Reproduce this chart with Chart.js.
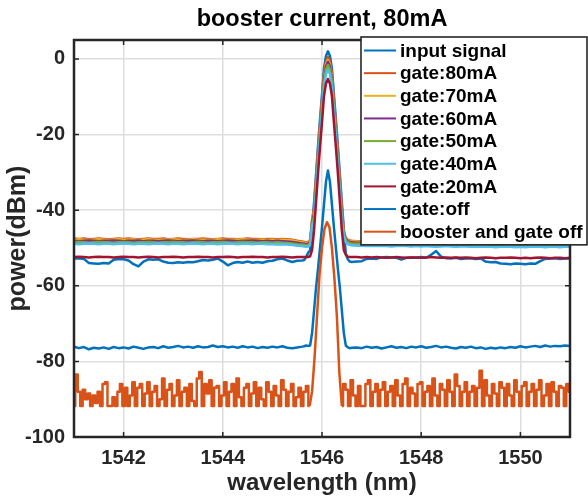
<!DOCTYPE html>
<html lang="en">
<head>
    <meta charset="UTF-8">
    <title>booster current, 80mA</title>
    <style>
        body {
            margin: 0;
            background: #fff;
        }
        #spectrum {
            display: block;
        }
    </style>
    <script src="https://cdn.jsdelivr.net/npm/chart.js"></script>
</head>
<body>
    <canvas id="spectrum" width="588" height="498"></canvas>

    <script>
        // ---- data ----
        const chartTitle = 'booster current, 80mA';
        const xTitle = 'wavelength (nm)';
        const yTitle = 'power(dBm)';

        const xTicks = [1542, 1544, 1546, 1548, 1550];
        const yTicks = [-100, -80, -60, -40, -20, 0];

        const seriesLabels = ['input signal', 'gate:80mA', 'gate:70mA', 'gate:60mA', 'gate:50mA',
                              'gate:40mA', 'gate:20mA', 'gate:off', 'booster and gate off'];

        // sample wavelengths (nm), finer around the signal peak
        const wavelength = [
            1541.0, 1541.1, 1541.2, 1541.3, 1541.4, 1541.5, 1541.6, 1541.7, 1541.8, 1541.9,
            1542.0, 1542.1, 1542.2, 1542.3, 1542.4, 1542.5, 1542.6, 1542.7, 1542.8, 1542.9,
            1543.0, 1543.1, 1543.2, 1543.3, 1543.4, 1543.5, 1543.6, 1543.7, 1543.8, 1543.9,
            1544.0, 1544.1, 1544.2, 1544.3, 1544.4, 1544.5, 1544.6, 1544.7, 1544.8, 1544.9,
            1545.0, 1545.1, 1545.2, 1545.3, 1545.4, 1545.5, 1545.6,
            1545.64, 1545.68, 1545.72, 1545.76, 1545.80, 1545.84, 1545.88, 1545.92, 1545.96, 1546.00,
            1546.04, 1546.08, 1546.12, 1546.16, 1546.20, 1546.24, 1546.28, 1546.32, 1546.36, 1546.40,
            1546.44, 1546.48, 1546.52, 1546.56, 1546.60,
            1546.7, 1546.8, 1546.9,
            1547.0, 1547.1, 1547.2, 1547.3, 1547.4, 1547.5, 1547.6, 1547.7, 1547.8, 1547.9,
            1548.0, 1548.1, 1548.2, 1548.3, 1548.4, 1548.5, 1548.6, 1548.7, 1548.8, 1548.9,
            1549.0, 1549.1, 1549.2, 1549.3, 1549.4, 1549.5, 1549.6, 1549.7, 1549.8, 1549.9,
            1550.0, 1550.1, 1550.2, 1550.3, 1550.4, 1550.5, 1550.6, 1550.7, 1550.8, 1550.9,
            1551.0
        ];

        const inputSignal = [
            -52.8, -52.7, -52.9, -54.0, -54.1, -54.2, -54.0, -54.1, -53.1, -52.9,
            -53.0, -53.3, -54.3, -54.9, -53.6, -53.0, -53.1, -53.0, -53.6, -53.9,
            -54.0, -53.8, -53.9, -53.7, -53.8, -53.5, -53.2, -53.3, -53.1, -52.8,
            -53.6, -54.6, -54.0, -53.7, -53.9, -53.6, -53.9, -53.7, -53.9, -53.5,
            -53.4, -53.0, -52.8, -53.3, -53.7, -53.4, -53.3,
            -53.2, -52.4, -51.3, -50.6, -44.5, -38.0, -30.5, -23.0, -16.0, -9.5,
            -2.5, 0.8, 2.0, 0.8, -2.5, -9.5, -16.0, -23.0, -30.5, -38.0,
            -45.0, -51.5, -53.0, -53.6, -53.7,
            -53.6, -53.5, -52.9,
            -52.8, -52.9, -52.5, -52.4, -52.5, -52.6, -53.1, -52.6, -52.5, -52.6,
            -52.4, -52.6, -51.8, -50.8, -52.3, -52.7, -52.8, -52.6, -52.9, -52.8,
            -52.7, -52.9, -52.8, -53.6, -53.8, -53.7, -54.1, -54.2, -54.3, -54.1,
            -54.2, -54.3, -54.1, -54.2, -53.5, -52.9, -52.8, -52.7, -52.9, -52.8,
            -52.8
        ];

        const gate80 = [
            -47.5, -47.6, -47.5, -47.7, -47.6, -47.5, -47.6, -47.7, -47.6, -47.5,
            -47.6, -47.5, -47.6, -47.7, -47.6, -47.5, -47.6, -47.6, -47.5, -47.7,
            -47.6, -47.5, -47.6, -47.7, -47.6, -47.6, -47.5, -47.6, -47.7, -47.6,
            -47.5, -47.6, -47.6, -47.7, -47.6, -47.5, -47.6, -47.6, -47.7, -47.6,
            -47.6, -47.7, -47.6, -47.7, -47.8, -48.1, -48.3,
            -48.4, -48.5, -48.4, -47.9, -42.5, -39.5, -32.0, -24.5, -17.5, -11.0,
            -4.0, -0.7, 0.5, -0.7, -4.0, -11.0, -17.5, -24.5, -32.0, -39.5,
            -45.5, -47.3, -47.8, -48.0, -48.1,
            -48.2, -48.2, -48.3,
            -48.2, -48.3, -48.2, -48.3, -48.4, -48.3, -48.2, -48.3, -48.4, -48.3,
            -48.4, -48.3, -48.4, -48.5, -48.4, -48.3, -48.4, -48.5, -48.4, -48.4,
            -48.5, -48.4, -48.5, -48.4, -48.5, -48.6, -48.5, -48.4, -48.5, -48.6,
            -48.5, -48.6, -48.5, -48.4, -48.5, -48.6, -48.5, -48.5, -48.6, -48.5,
            -48.5
        ];

        const gate70 = [
            -47.8, -47.7, -47.8, -47.9, -47.8, -47.7, -47.8, -47.9, -47.8, -47.7,
            -47.8, -47.8, -47.7, -47.9, -47.8, -47.7, -47.8, -47.9, -47.8, -47.8,
            -47.7, -47.8, -47.9, -47.8, -47.7, -47.8, -47.8, -47.9, -47.8, -47.7,
            -47.8, -47.9, -47.8, -47.8, -47.7, -47.8, -47.9, -47.8, -47.8, -47.9,
            -47.8, -47.9, -47.8, -47.9, -48.0, -48.3, -48.5,
            -48.6, -48.7, -48.6, -48.1, -43.0, -40.3, -32.8, -25.3, -18.3, -11.8,
            -4.8, -1.5, -0.3, -1.5, -4.8, -11.8, -18.3, -25.3, -32.8, -40.3,
            -45.8, -47.5, -48.0, -48.2, -48.3,
            -48.3, -48.4, -48.4,
            -48.4, -48.3, -48.4, -48.5, -48.4, -48.4, -48.5, -48.4, -48.5, -48.4,
            -48.5, -48.4, -48.5, -48.6, -48.5, -48.4, -48.5, -48.6, -48.5, -48.5,
            -48.6, -48.5, -48.6, -48.5, -48.6, -48.7, -48.6, -48.5, -48.6, -48.7,
            -48.6, -48.7, -48.6, -48.5, -48.6, -48.7, -48.6, -48.6, -48.7, -48.6,
            -48.6
        ];

        const gate60 = [
            -48.1, -48.2, -48.1, -48.0, -48.1, -48.2, -48.1, -48.1, -48.0, -48.1,
            -48.2, -48.1, -48.1, -48.0, -48.2, -48.1, -48.1, -48.2, -48.1, -48.0,
            -48.1, -48.2, -48.1, -48.1, -48.0, -48.1, -48.2, -48.1, -48.1, -48.2,
            -48.1, -48.0, -48.1, -48.2, -48.1, -48.1, -48.0, -48.1, -48.2, -48.1,
            -48.2, -48.1, -48.2, -48.3, -48.4, -48.6, -48.8,
            -48.9, -49.0, -48.9, -48.4, -43.3, -40.8, -33.3, -25.8, -18.8, -12.3,
            -5.3, -2.0, -0.8, -2.0, -5.3, -12.3, -18.8, -25.8, -33.3, -40.8,
            -46.0, -47.7, -48.2, -48.4, -48.5,
            -48.6, -48.6, -48.7,
            -48.6, -48.7, -48.6, -48.7, -48.8, -48.7, -48.6, -48.7, -48.8, -48.7,
            -48.8, -48.7, -48.8, -48.9, -48.8, -48.7, -48.8, -48.9, -48.8, -48.8,
            -48.9, -48.8, -48.9, -48.8, -48.9, -49.0, -48.9, -48.8, -48.9, -49.0,
            -48.9, -49.0, -48.9, -48.8, -48.9, -49.0, -48.9, -48.9, -49.0, -48.9,
            -48.9
        ];

        const gate50 = [
            -48.5, -48.4, -48.5, -48.6, -48.5, -48.4, -48.5, -48.5, -48.6, -48.5,
            -48.4, -48.5, -48.6, -48.5, -48.5, -48.4, -48.5, -48.6, -48.5, -48.5,
            -48.4, -48.5, -48.5, -48.6, -48.5, -48.4, -48.5, -48.6, -48.5, -48.5,
            -48.4, -48.5, -48.6, -48.5, -48.4, -48.5, -48.5, -48.6, -48.5, -48.5,
            -48.6, -48.5, -48.6, -48.7, -48.8, -49.0, -49.1,
            -49.2, -49.3, -49.2, -48.8, -43.6, -41.6, -34.1, -26.6, -19.6, -13.1,
            -6.1, -2.8, -1.6, -2.8, -6.1, -13.1, -19.6, -26.6, -34.1, -41.6,
            -46.3, -48.0, -48.5, -48.7, -48.8,
            -48.9, -48.9, -49.0,
            -48.9, -49.0, -48.9, -49.0, -49.1, -49.0, -48.9, -49.0, -49.1, -49.0,
            -49.1, -49.0, -49.1, -49.2, -49.1, -49.0, -49.1, -49.2, -49.1, -49.1,
            -49.2, -49.1, -49.2, -49.1, -49.2, -49.3, -49.2, -49.1, -49.2, -49.3,
            -49.2, -49.3, -49.2, -49.1, -49.2, -49.3, -49.2, -49.2, -49.3, -49.2,
            -49.2
        ];

        const gate40 = [
            -48.9, -49.0, -48.9, -48.8, -48.9, -49.0, -48.9, -48.9, -49.0, -48.9,
            -48.8, -48.9, -49.0, -48.9, -48.9, -49.0, -48.9, -48.8, -48.9, -49.0,
            -48.9, -48.9, -49.0, -48.9, -48.8, -48.9, -49.0, -48.9, -48.9, -49.0,
            -48.9, -48.8, -48.9, -49.0, -48.9, -48.9, -49.0, -48.9, -48.9, -49.0,
            -49.0, -49.1, -49.0, -49.1, -49.2, -49.4, -49.5,
            -49.6, -49.7, -49.6, -49.2, -44.0, -42.8, -35.3, -27.8, -20.8, -14.3,
            -7.3, -4.0, -2.8, -4.0, -7.3, -14.3, -20.8, -27.8, -35.3, -42.8,
            -46.8, -48.5, -49.0, -49.2, -49.3,
            -49.4, -49.4, -49.5,
            -49.4, -49.5, -49.4, -49.5, -49.6, -49.5, -49.4, -49.5, -49.6, -49.5,
            -49.6, -49.5, -49.6, -49.7, -49.6, -49.5, -49.6, -49.7, -49.6, -49.6,
            -49.7, -49.6, -49.7, -49.6, -49.7, -49.8, -49.7, -49.6, -49.7, -49.8,
            -49.7, -49.8, -49.7, -49.6, -49.7, -49.8, -49.7, -49.7, -49.8, -49.7,
            -49.7
        ];

        const gate20 = [
            -52.4, -52.3, -52.4, -52.5, -52.4, -52.3, -52.4, -52.4, -52.5, -52.4,
            -52.3, -52.4, -52.4, -52.5, -52.4, -52.3, -52.4, -52.5, -52.4, -52.4,
            -52.3, -52.4, -52.5, -52.4, -52.4, -52.3, -52.4, -52.4, -52.5, -52.4,
            -52.4, -52.3, -52.4, -52.5, -52.4, -52.4, -52.3, -52.4, -52.4, -52.5,
            -52.4, -52.4, -52.3, -52.4, -52.5, -52.4, -52.4,
            -52.4, -52.4, -52.4, -52.2, -50.5, -45.3, -37.8, -30.3, -23.3, -16.8,
            -9.8, -6.5, -5.3, -6.5, -9.8, -16.8, -23.3, -30.3, -37.8, -45.3,
            -50.6, -51.8, -52.3, -52.4, -52.4,
            -52.4, -52.5, -52.4,
            -52.5, -52.4, -52.5, -52.6, -52.5, -52.4, -52.5, -52.6, -52.5, -52.5,
            -52.6, -52.5, -52.4, -52.5, -52.6, -52.5, -52.6, -52.5, -52.6, -52.5,
            -52.6, -52.7, -52.6, -52.5, -52.6, -52.7, -52.6, -52.6, -52.5, -52.6,
            -52.7, -52.6, -52.7, -52.6, -52.5, -52.6, -52.7, -52.6, -52.6, -52.7,
            -52.6
        ];

        const gateOff = [
            -76.1, -76.5, -76.2, -76.8, -76.4, -76.6, -76.3, -76.7, -76.2, -76.5,
            -76.3, -76.6, -76.1, -76.4, -76.7, -76.3, -76.2, -76.5, -76.0, -76.4,
            -76.2, -75.9, -76.3, -76.1, -76.4, -76.0, -76.3, -76.2, -75.8, -76.2,
            -76.0, -76.3, -76.1, -76.4, -76.0, -76.3, -76.1, -76.5, -76.2, -76.4,
            -76.1, -76.3, -76.0, -76.4, -76.5, -76.3, -76.1,
            -76.0, -75.8, -75.9, -75.8, -72.5, -66.5, -60.5, -55.5, -50.0, -44.5,
            -38.5, -32.5, -29.5, -32.5, -38.5, -44.5, -50.0, -55.5, -60.5, -66.5,
            -72.5, -75.8, -76.3, -76.5, -76.4,
            -76.3, -76.5, -76.1,
            -76.4, -76.2, -76.6, -76.3, -76.0, -76.4, -76.2, -76.5, -76.1, -76.3,
            -76.0, -76.4, -76.2, -75.9, -76.3, -76.1, -76.4, -76.6, -76.2, -76.4,
            -76.1, -76.5, -76.3, -76.7, -76.4, -76.6, -76.3, -76.5, -76.2, -76.4,
            -76.0, -76.3, -76.1, -75.9, -76.2, -75.8, -76.1, -75.9, -76.0, -75.8,
            -75.9
        ];

        // the noise-floor trace is sampled on its own, denser grid
        const noiseWavelength = [
            1541.00, 1541.05, 1541.10, 1541.15, 1541.20, 1541.25, 1541.30, 1541.35, 1541.40, 1541.45,
            1541.50, 1541.55, 1541.60, 1541.65, 1541.70, 1541.75, 1541.80, 1541.85, 1541.90, 1541.95,
            1542.00, 1542.05, 1542.10, 1542.15, 1542.20, 1542.25, 1542.30, 1542.35, 1542.40, 1542.45,
            1542.50, 1542.55, 1542.60, 1542.65, 1542.70, 1542.75, 1542.80, 1542.85, 1542.90, 1542.95,
            1543.00, 1543.05, 1543.10, 1543.15, 1543.20, 1543.25, 1543.30, 1543.35, 1543.40, 1543.45,
            1543.50, 1543.55, 1543.60, 1543.65, 1543.70, 1543.75, 1543.80, 1543.85, 1543.90, 1543.95,
            1544.00, 1544.05, 1544.10, 1544.15, 1544.20, 1544.25, 1544.30, 1544.35, 1544.40, 1544.45,
            1544.50, 1544.55, 1544.60, 1544.65, 1544.70, 1544.75, 1544.80, 1544.85, 1544.90, 1544.95,
            1545.00, 1545.05, 1545.10, 1545.15, 1545.20, 1545.25, 1545.30, 1545.35, 1545.40, 1545.45,
            1545.50, 1545.55, 1545.60, 1545.65, 1545.70, 1545.75, 1545.80, 1545.85, 1545.90, 1545.95,
            1546.00, 1546.05, 1546.10, 1546.15, 1546.20, 1546.25, 1546.30, 1546.35, 1546.40, 1546.45,
            1546.50, 1546.55, 1546.60, 1546.65, 1546.70, 1546.75, 1546.80, 1546.85, 1546.90, 1546.95,
            1547.00, 1547.05, 1547.10, 1547.15, 1547.20, 1547.25, 1547.30, 1547.35, 1547.40, 1547.45,
            1547.50, 1547.55, 1547.60, 1547.65, 1547.70, 1547.75, 1547.80, 1547.85, 1547.90, 1547.95,
            1548.00, 1548.05, 1548.10, 1548.15, 1548.20, 1548.25, 1548.30, 1548.35, 1548.40, 1548.45,
            1548.50, 1548.55, 1548.60, 1548.65, 1548.70, 1548.75, 1548.80, 1548.85, 1548.90, 1548.95,
            1549.00, 1549.05, 1549.10, 1549.15, 1549.20, 1549.25, 1549.30, 1549.35, 1549.40, 1549.45,
            1549.50, 1549.55, 1549.60, 1549.65, 1549.70, 1549.75, 1549.80, 1549.85, 1549.90, 1549.95,
            1550.00, 1550.05, 1550.10, 1550.15, 1550.20, 1550.25, 1550.30, 1550.35, 1550.40, 1550.45,
            1550.50, 1550.55, 1550.60, 1550.65, 1550.70, 1550.75, 1550.80, 1550.85, 1550.90, 1550.95,
            1551.00
        ];

        const boosterOff = [
            -91.8, -83.5, -88, -91.8, -87.5, -90, -88.5, -91.8, -89, -91,
            -88, -91.8, -86, -85.5, -91.8, -91.8, -89.5, -91.8, -88, -86,
            -91.8, -87, -91.8, -89, -85.5, -91.8, -87, -86, -91.8, -88.5,
            -85.5, -91.8, -88, -86.5, -91.8, -90, -84.5, -91.8, -87.5, -86,
            -91.8, -89, -85, -91.8, -88, -87, -91.8, -86, -90.5, -91.8,
            -84.5, -82.8, -91.8, -86, -88.5, -85, -91.8, -87, -86.5, -91.8,
            -89, -85.5, -91.8, -88, -86, -91.8, -84.5, -89.5, -91.8, -87,
            -86, -91.8, -88.5, -85.5, -91.8, -87, -90, -91.8, -85.5, -88,
            -91.8, -86.5, -89, -91.8, -85, -87.5, -91.8, -88, -86, -91.8,
            -89.5, -87, -91.8, -88, -86.5, -91.8, -88, -79, -68, -57,
            -50, -45, -43.2, -44.5, -50, -58, -68, -83, -91.8, -86,
            -87.5, -91.8, -85, -89, -91.8, -86.5, -91.8, -91.8, -86, -85,
            -91.8, -88, -86, -91.8, -87.5, -85.5, -91.8, -88, -86.5, -91.8,
            -85, -89, -91.8, -86, -84.5, -91.8, -87, -88.5, -91.8, -86,
            -85.5, -91.8, -88, -86.5, -91.8, -84.5, -89, -91.8, -86, -87.5,
            -91.8, -85, -88, -91.8, -83.5, -86.5, -91.8, -88, -85.5, -91.8,
            -88, -86.5, -91.8, -87, -82.5, -91.8, -85, -89, -91.8, -86,
            -88.5, -91.8, -85.5, -87, -91.8, -86, -89, -91.8, -85, -88,
            -91.8, -86.5, -85.5, -91.8, -88, -86, -91.8, -87.5, -85, -91.8,
            -89, -86, -91.8, -85.5, -88, -91.8, -86.5, -87, -91.8, -86,
            -88
        ];

        // wavelength span of the booster-off trace that is the signal peak, not noise
        const boosterPeakSpan = [1545.75, 1546.40];

        // ---- styling (MATLAB default line colours) ----
        const seriesColors = ['#0072BD', '#D95319', '#EDB120', '#7E2F8E', '#77AC30',
                              '#4DBEEE', '#A2142F', '#0072BD', '#D95319'];
        const axisColor = '#262626';
        const fontFamily = "'Liberation Sans', Arial, sans-serif";

        const seriesY = [inputSignal, gate80, gate70, gate60, gate50, gate40, gate20, gateOff];

        const lineStyle = (i) => ({
            borderColor: seriesColors[i],
            backgroundColor: seriesColors[i],
            borderWidth: 2.5,
            pointRadius: 0,
            tension: 0,
            borderJoinStyle: 'round',
            // later traces sit on top, like MATLAB's plot order
            order: seriesLabels.length - i
        });

        const datasets = seriesY.map((ys, i) => Object.assign({
            label: seriesLabels[i],
            data: wavelength.map((x, k) => ({ x: x, y: ys[k] }))
        }, lineStyle(i)));

        // booster-off trace: the noise floor is drawn as a comb of steps,
        // the peak itself as a plain line
        const last = seriesLabels.length - 1;
        const boosterPoints = noiseWavelength.map((x, k) => ({ x: x, y: boosterOff[k] }));
        const inPeak = p => p.x > boosterPeakSpan[0] && p.x < boosterPeakSpan[1];
        datasets.push(Object.assign({
            label: seriesLabels[last],
            data: boosterPoints.map(p => inPeak(p) ? { x: p.x, y: null } : p),
            stepped: 'middle',
            spanGaps: false
        }, lineStyle(last)));
        datasets.push(Object.assign({
            label: seriesLabels[last],
            data: boosterPoints.filter(p => p.x >= boosterPeakSpan[0] && p.x <= boosterPeakSpan[1]),
            inLegend: false
        }, lineStyle(last)));

        // axes box with inward tick marks
        const axesBox = {
            id: 'axesBox',
            afterDatasetsDraw(chart) {
                const { ctx, chartArea: a, scales } = chart;
                ctx.save();
                ctx.strokeStyle = axisColor;
                ctx.lineWidth = 1.5;
                ctx.beginPath();
                xTicks.forEach(v => {
                    const px = scales.x.getPixelForValue(v);
                    ctx.moveTo(px, a.bottom); ctx.lineTo(px, a.bottom - 5);
                    ctx.moveTo(px, a.top); ctx.lineTo(px, a.top + 5);
                });
                yTicks.forEach(v => {
                    const py = scales.y.getPixelForValue(v);
                    ctx.moveTo(a.left, py); ctx.lineTo(a.left + 5, py);
                    ctx.moveTo(a.right, py); ctx.lineTo(a.right - 5, py);
                });
                ctx.stroke();
                ctx.lineWidth = 2.5;
                ctx.strokeRect(a.left, a.top, a.right - a.left, a.bottom - a.top);
                ctx.restore();
            }
        };

        // legend box in the upper right corner, overlapping the axes
        const legendBox = {
            id: 'legendBox',
            afterDraw(chart) {
                const { ctx, chartArea: a } = chart;
                const entries = chart.data.datasets.filter(ds => ds.inLegend !== false);
                const left = a.left + 287, top = a.top - 3;
                const width = 226, rowH = 22.65;
                const height = rowH * entries.length + 4;
                ctx.save();
                ctx.fillStyle = '#fff';
                ctx.fillRect(left, top, width, height);
                ctx.strokeStyle = axisColor;
                ctx.lineWidth = 1.6;
                ctx.strokeRect(left, top, width, height);
                ctx.font = 'bold 19px ' + fontFamily;
                ctx.textBaseline = 'middle';
                entries.forEach((ds, i) => {
                    const cy = top + 13.5 + i * rowH;
                    ctx.strokeStyle = ds.borderColor;
                    ctx.lineWidth = 2;
                    ctx.beginPath();
                    ctx.moveTo(left + 3, cy);
                    ctx.lineTo(left + 35, cy);
                    ctx.stroke();
                    ctx.fillStyle = '#000';
                    ctx.fillText(ds.label, left + 39, cy + 1);
                });
                ctx.restore();
            }
        };

        const ctx = document.getElementById('spectrum').getContext('2d');
        const chart = new Chart(ctx, {
            type: 'line',
            data: { datasets: datasets },
            options: {
                responsive: false,
                animation: false,
                devicePixelRatio: 1,
                layout: { padding: { left: 0, right: 18, top: 0, bottom: 0 } },
                plugins: {
                    legend: { display: false },
                    tooltip: { enabled: false },
                    title: {
                        display: true,
                        text: chartTitle,
                        fullSize: false,
                        color: '#000',
                        font: { family: fontFamily, size: 23.5, weight: 'bold' },
                        padding: { top: 5, bottom: 6.8 }
                    }
                },
                scales: {
                    x: {
                        type: 'linear',
                        min: 1541,
                        max: 1551,
                        afterBuildTicks: s => { s.ticks = xTicks.map(v => ({ value: v })); },
                        afterFit: s => { s.height = 61; },
                        border: { display: false },
                        grid: { color: '#dedede', lineWidth: 1.5, drawTicks: false },
                        ticks: {
                            color: axisColor,
                            padding: 9,
                            maxRotation: 0,
                            font: { family: fontFamily, size: 20, weight: 'bold' },
                            callback: v => String(v)
                        },
                        title: {
                            display: true,
                            text: xTitle,
                            color: axisColor,
                            font: { family: fontFamily, size: 24, weight: 'bold' },
                            padding: { top: 0, bottom: 0 }
                        }
                    },
                    y: {
                        min: -100,
                        max: 5,
                        afterBuildTicks: s => { s.ticks = yTicks.map(v => ({ value: v })); },
                        afterFit: s => { s.width = 74; },
                        border: { display: false },
                        grid: { color: '#dedede', lineWidth: 1.5, drawTicks: false },
                        ticks: {
                            color: axisColor,
                            padding: 9,
                            font: { family: fontFamily, size: 20, weight: 'bold' },
                            callback: v => String(v)
                        },
                        title: {
                            display: true,
                            text: yTitle,
                            color: axisColor,
                            font: { family: fontFamily, size: 25, weight: 'bold' },
                            padding: { top: 3, bottom: 0 }
                        }
                    }
                }
            },
            plugins: [axesBox, legendBox]
        });
    </script>
</body>
</html>
